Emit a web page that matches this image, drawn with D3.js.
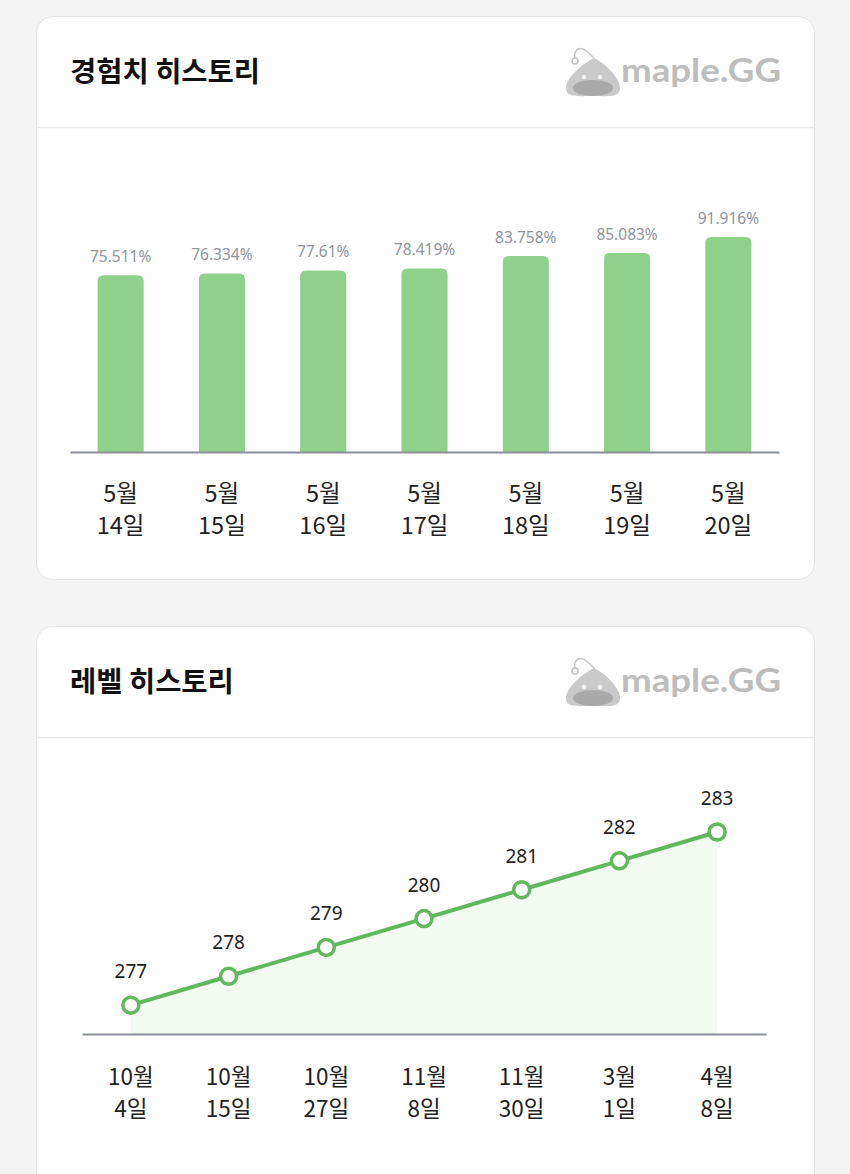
<!DOCTYPE html>
<html><head><meta charset="utf-8">
<script src="https://cdn.jsdelivr.net/npm/d3@7/dist/d3.min.js"></script>
<style>
html,body{margin:0;padding:0;background:#f4f4f4;}
svg{display:block;}
text{font-family:"Noto Sans CJK KR","Noto Sans",sans-serif;}
</style></head>
<body>
<svg id="c" width="850" height="1174"></svg>
<script>
// ---- data ----
const expMonths = ["5월","5월","5월","5월","5월","5월","5월"];
const expDays = ["14일","15일","16일","17일","18일","19일","20일"];
const expValues = [75.511, 76.334, 77.61, 78.419, 83.758, 85.083, 91.916];
const expLabels = ["75.511%","76.334%","77.61%","78.419%","83.758%","85.083%","91.916%"];

const levelMonths = ["10월","10월","10월","11월","11월","3월","4월"];
const levelDays = ["4일","15일","27일","8일","30일","1일","8일"];
const levelValues = [277, 278, 279, 280, 281, 282, 283];

const titles = ["경험치 히스토리","레벨 히스토리"];

// ---- drawing ----
const svg = d3.select("#c");
svg.append("rect").attr("width",850).attr("height",1174).attr("fill","#f4f4f4");

function card(y, h, title){
  const g = svg.append("g");
  g.append("rect").attr("x",36.5).attr("y",y+0.5).attr("width",778).attr("height",h)
    .attr("rx",16).attr("fill","#fff").attr("stroke","#e4e4e4");
  g.append("line").attr("x1",37).attr("x2",814).attr("y1",y+111.5).attr("y2",y+111.5)
    .attr("stroke","#ebebeb").attr("stroke-width",1.5);
  g.append("text").attr("x",70).attr("y",y+66).attr("font-size",28.5).attr("font-weight",700)
    .attr("fill","#111").text(title);
  // logo
  const lg = g.append("g").attr("transform",`translate(0,${y})`);
  lg.append("path").attr("d","M576,44 C572,36 578,30 585,34 C589,37 592,40 594,42")
    .attr("fill","none").attr("stroke","#c4c4c4").attr("stroke-width",1.5);
  lg.append("circle").attr("cx",575).attr("cy",45).attr("r",3).attr("fill","#fff").attr("stroke","#c4c4c4").attr("stroke-width",1.5);
  lg.append("path").attr("d","M594,42 C606,48 620,62 620,72 C620,82 608,80 593,80 C578,80 566,82 566,72 C566,62 582,48 594,42 Z")
    .attr("fill","#c9c9c9");
  lg.append("ellipse").attr("cx",593).attr("cy",72).attr("rx",20).attr("ry",8).attr("fill","#a9a9a9");
  lg.append("circle").attr("cx",584).attr("cy",61).attr("r",2.2).attr("fill","#f2f2f2");
  lg.append("circle").attr("cx",600).attr("cy",61).attr("r",2.2).attr("fill","#f2f2f2");
  lg.append("text").attr("x",621).attr("y",66).attr("font-size",33).attr("font-weight",700)
    .attr("fill","#bdbdbd").style("font-family","Lato, sans-serif")
    .attr("textLength",160).attr("lengthAdjust","spacingAndGlyphs").text("maple.GG");
  return g;
}

card(16, 563, titles[0]);
card(626, 600, titles[1]);

// ---- bar chart ----
const idx = d3.range(expValues.length);
const xb = d3.scalePoint().domain(idx).range([70,779]).padding(0.5);
const yb = d3.scaleLinear().domain([0,100]).range([452,218]);
const bw = xb.step()*0.455;
const bars = svg.append("g");
bars.selectAll("path.bar").data(idx).join("path").attr("class","bar")
  .attr("fill","#8dd18b")
  .attr("d", i => {
    const x0 = xb(i)-bw/2, x1 = xb(i)+bw/2, y0 = yb(expValues[i]), y1 = yb(0), r = 6;
    return `M${x0},${y1} L${x0},${y0+r} Q${x0},${y0} ${x0+r},${y0} L${x1-r},${y0} Q${x1},${y0} ${x1},${y0+r} L${x1},${y1} Z`;
  });
bars.selectAll("text.vl").data(idx).join("text").attr("class","vl")
  .attr("x", i => xb(i)).attr("y", i => yb(expValues[i]) - 13)
  .attr("text-anchor","middle").attr("font-size",15.5).attr("fill","#8f949c")
  .style("font-family","'Noto Sans', sans-serif")
  .text(i => expLabels[i]);
const axB = svg.append("g").attr("transform","translate(0,452)")
  .call(d3.axisBottom(xb).tickSize(0).tickSizeOuter(0).tickFormat(""));
axB.select(".domain").attr("stroke","#8a8f99").attr("stroke-width",2);
axB.selectAll(".tick text").remove();
const xlB = svg.append("g");
idx.forEach(i => {
  const t = xlB.append("text").attr("text-anchor","middle").attr("font-size",23.5).attr("fill","#222");
  t.append("tspan").attr("x",xb(i)).attr("y",502).text(expMonths[i]);
  t.append("tspan").attr("x",xb(i)).attr("y",534).text(expDays[i]);
});

// ---- line chart ----
const lidx = d3.range(levelValues.length);
const xl = d3.scalePoint().domain(lidx).range([82,766]).padding(0.5);
const yl = d3.scaleLinear().domain([276,283]).range([1034,832]);
const area = d3.area().x(i => xl(i)).y0(yl(276)).y1(i => yl(levelValues[i]));
svg.append("path").datum(lidx).attr("d",area).attr("fill","#f3faf2");
const axL = svg.append("g").attr("transform","translate(0,1034)")
  .call(d3.axisBottom(xl).tickSize(0).tickSizeOuter(0).tickFormat(""));
axL.select(".domain").attr("stroke","#8a8f99").attr("stroke-width",2);
const line = d3.line().x(i => xl(i)).y(i => yl(levelValues[i]));
svg.append("path").datum(lidx).attr("d",line).attr("fill","none")
  .attr("stroke","#5fb85c").attr("stroke-width",4);
svg.selectAll("circle.pt").data(lidx).join("circle").attr("class","pt")
  .attr("cx", i => xl(i)).attr("cy", i => yl(levelValues[i])).attr("r",8)
  .attr("fill","#fff").attr("stroke","#5fb85c").attr("stroke-width",3.5);
svg.selectAll("text.ll").data(lidx).join("text").attr("class","ll")
  .attr("x", i => xl(i)).attr("y", i => yl(levelValues[i]) - 27)
  .attr("text-anchor","middle").attr("font-size",19).attr("fill","#222")
  .style("font-family","'Noto Sans', sans-serif")
  .text(i => levelValues[i]);
const xlL = svg.append("g");
lidx.forEach(i => {
  const t = xlL.append("text").attr("text-anchor","middle").attr("font-size",22.5).attr("fill","#222");
  t.append("tspan").attr("x",xl(i)).attr("y",1085).text(levelMonths[i]);
  t.append("tspan").attr("x",xl(i)).attr("y",1117).text(levelDays[i]);
});
</script>
</body></html>
